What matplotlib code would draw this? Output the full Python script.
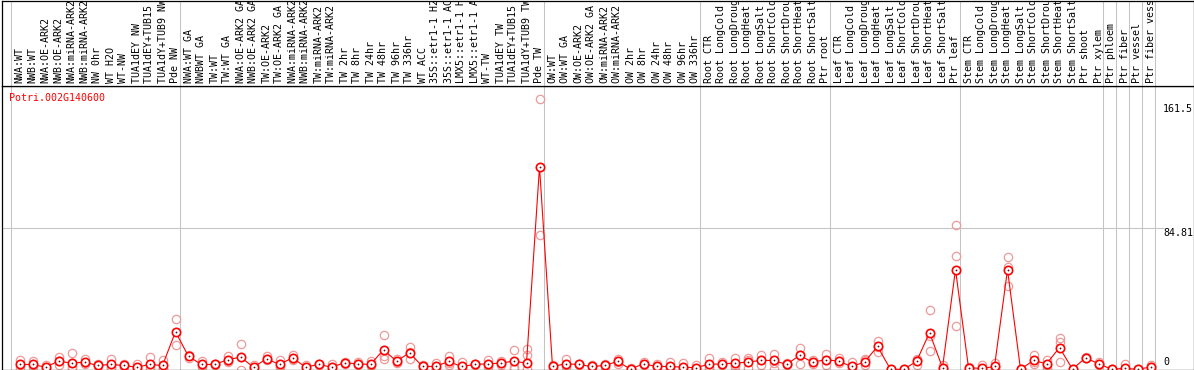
import matplotlib
matplotlib.use("Agg")
import matplotlib.pyplot as plt
from matplotlib import transforms

# ---------------- data ----------------
labels = [
    "NWA:WT", "NWB:WT", "NWA:OE-ARK2", "NWB:OE-ARK2", "NWA:miRNA-ARK2", "NWB:miRNA-ARK2",
    "NW 0hr", "WT H2O", "WT-NW", "TUA1dEY NW", "TUA1dEY+TUB15 NW", "TUA1dY+TUB9 NW", "Pde NW",
    "NWA:WT GA", "NWBWT GA", "TW:WT", "TW:WT GA", "NWA:OE-ARK2 GA", "NWB:OE-ARK2 GA",
    "TW:OE-ARK2", "TW:OE-ARK2 GA", "NWA:miRNA-ARK2 GA", "NWB:miRNA-ARK2 GA", "TW:miRNA-ARK2",
    "TW:miRNA-ARK2 GA", "TW 2hr", "TW 8hr", "TW 24hr", "TW 48hr", "TW 96hr", "TW 336hr",
    "WT ACC", "35S::etr1-1 H2O", "35S::etr1-1 ACC", "LMX5::etr1-1 H2O", "LMX5::etr1-1 ACC",
    "WT-TW", "TUA1dEY TW", "TUA1dEY+TUB15 TW", "TUA1dY+TUB9 TW", "Pde TW",
    "OW:WT", "OW:WT GA", "OW:OE-ARK2", "OW:OE-ARK2 GA", "OW:miRNA-ARK2", "OW:miRNA-ARK2 GA",
    "OW 2hr", "OW 8hr", "OW 24hr", "OW 48hr", "OW 96hr", "OW 336hr",
    "Root CTR", "Root LongCold", "Root LongDrought", "Root LongHeat", "Root LongSalt",
    "Root ShortCold", "Root ShortDrought", "Root ShortHeat", "Root ShortSalt", "Ptr root",
    "Leaf CTR", "Leaf LongCold", "Leaf LongDrought", "Leaf LongHeat", "Leaf LongSalt",
    "Leaf ShortCold", "Leaf ShortDrought", "Leaf ShortHeat", "Leaf ShortSalt", "Ptr leaf",
    "Stem CTR", "Stem LongCold", "Stem LongDrought", "Stem LongHeat", "Stem LongSalt",
    "Stem ShortCold", "Stem ShortDrought", "Stem ShortHeat", "Stem ShortSalt", "Ptr shoot",
    "Ptr xylem", "Ptr phloem", "Ptr fiber", "Ptr vessel", "Ptr fiber vessel",
]

means = [
    3.0, 3.0, 1.4, 5.0, 3.8, 4.4, 2.4, 3.0, 2.4, 1.4, 3.0, 2.4, 22.6,
    7.8, 3.0, 3.0, 5.8, 7.4, 1.4, 6.4, 3.0, 7.0, 1.4, 3.0, 1.4, 4.0, 3.4, 3.0,
    11.8, 5.0, 10.0, 1.8, 1.8, 4.8, 1.8, 3.0, 3.4, 3.8, 5.0, 3.8, 121.0,
    1.8, 3.4, 3.0, 1.8, 2.4, 4.8, 0.2, 3.4, 1.8, 1.8, 1.4, 1.1,
    3.0, 3.4, 3.8, 4.4, 5.4, 5.4, 3.0, 8.4, 4.4, 5.8,
    5.0, 1.8, 4.4, 13.8, 0.1, 0.1, 4.8, 22.0, 1.1, 59.7,
    1.1, 0.6, 1.8, 59.6, 0.2, 5.4, 3.4, 13.1, 0.2, 7.0,
    3.4, 0.2, 0.6, 0.2, 1.4,
]

replicates = [
    [5.4, 2.4, 1.1], [4.8, 2.4, 1.4], [2.4, 1.1, 0.6], [7.4, 5.2, 2.4], [9.8, 1.4, 0.3],
    [6.4, 3.6, 3.2], [3.0, 2.4, 1.8], [6.4, 1.6, 1.0], [3.4, 1.8, 1.4], [3.4, 0.6, 0.2],
    [7.4, 1.4, 0.2], [5.8, 1.1, 0.3], [30.3, 14.8],
    [8.8, 6.8], [4.8, 2.6, 1.6], [3.4, 3.2, 2.4], [8.0, 5.0, 4.4], [15.0, 0.0],
    [2.4, 1.1, 0.6], [7.8, 6.0, 5.4], [5.8, 2.0, 1.2], [8.8, 6.4, 5.4], [2.4, 1.1, 0.3],
    [3.4, 3.0, 2.4], [3.0, 0.6, 0.3], [4.4, 4.0, 3.4], [4.4, 3.4, 2.4], [4.8, 2.4, 1.8],
    [20.9, 7.9, 6.4], [6.4, 4.4, 4.0], [13.4, 10.2, 6.4], [2.4, 1.8, 1.1], [3.8, 0.6, 0.2],
    [8.0, 3.8, 2.4], [4.4, 0.6, 0.2], [3.4, 3.0, 2.4], [5.8, 2.8, 1.4], [4.8, 3.8, 2.4],
    [11.8, 1.4, 0.2], [12.2, 8.4, 0.5], [161.5, 80.5],
    [2.4, 1.1, 0.2], [6.4, 2.4, 1.4], [3.4, 3.0, 2.4], [2.4, 1.8, 1.1], [3.4, 2.4, 1.4],
    [6.4, 4.4, 3.4], [0.6, 0.2, 0.0], [4.4, 3.4, 2.4], [3.0, 1.8, 0.6], [4.4, 0.6, 0.2],
    [3.8, 0.6, 0.2], [2.4, 0.6, 0.2],
    [7.0, 1.4, 0.3], [4.4, 3.4, 2.4], [7.0, 2.4, 1.4], [7.0, 5.8, 0.6], [8.4, 5.4, 2.4],
    [9.4, 3.8, 0.2], [3.8, 3.0, 2.4], [13.0, 8.4, 3.4], [5.4, 4.4, 3.4], [9.4, 5.4, 2.4],
    [6.8, 5.0, 3.8], [4.4, 0.6, 0.2], [6.4, 5.4, 2.4], [17.1, 13.6, 10.4], [0.2, 0.0],
    [0.2, 0.0], [6.4, 5.4, 2.4], [35.8, 19.9, 10.8], [2.4, 0.6, 0.2], [86.4, 67.9, 25.7],
    [1.6, 0.2], [2.4, 0.2], [3.8, 1.0, 0.6], [67.3, 61.5, 49.6], [0.4, 0.1],
    [8.8, 4.4, 3.4], [5.8, 2.4, 1.1], [18.7, 16.7, 4.2], [0.4, 0.1], [7.4, 6.8, 6.6],
    [4.4, 3.4, 2.4], [0.4, 0.1], [3.0, 0.2], [0.4, 0.1], [2.4, 1.4, 0.6],
]

group_starts = [0, 13, 41, 53, 63, 73, 84, 85, 86, 87, 88]
gene_name = "Potri.002G140600"
y_max_label = 161.5
y_mid_label = 84.81
y_axis_top = 2 * y_mid_label

# ---------------- layout ----------------
W, H = 1194, 370
fig = plt.figure(figsize=(W / 100, H / 100), dpi=100)
fig.patch.set_facecolor("white")


def px_box(l, t, r, b):
    return [l / W, 1 - b / H, (r - l) / W, (b - t) / H]


LEFT, RIGHT = 1.5, 1193.5
X0, DX = 19.5, 13.0
ax = fig.add_axes(px_box(LEFT, 85.5, RIGHT, 369.5))
ax_top = fig.add_axes(px_box(LEFT, 0.5, RIGHT, 85.5))

xlim = ((LEFT - X0) / DX, (RIGHT - X0) / DX)
for a in (ax, ax_top):
    a.set_xlim(*xlim)
    a.set_xticks([])
    a.set_yticks([])
    for sp in a.spines.values():
        sp.set_color("black")
        sp.set_linewidth(0.9)
ax.set_ylim(0, y_axis_top)
ax_top.set_ylim(0, 1)

grid_color = "#c4c4c4"
for s in group_starts:
    ax.axvline(s - 0.65, color=grid_color, lw=0.75, zorder=1)
    ax_top.axvline(s - 0.65, color=grid_color, lw=0.75, zorder=1)
ax.hlines(y_mid_label, xlim[0], 88.0, color=grid_color, lw=0.75, zorder=1)

mono = "DejaVu Sans Mono"
fs = 7.2

# category labels (rotated)
btrans = transforms.blended_transform_factory(ax_top.transData, ax_top.transAxes)
for i, lab in enumerate(labels):
    ax_top.text(i, 2.5 / 85, lab, rotation=90, ha="center", va="bottom",
                fontsize=fs, family=mono, color="black", transform=btrans, clip_on=True)

xs = list(range(len(means)))
rx, ry = [], []
for i, reps in enumerate(replicates):
    for v in reps:
        rx.append(i)
        ry.append(v)
ax.plot(rx, ry, linestyle="none", marker="o", ms=6.0, mfc="none",
        mec="#ee9a9a", mew=0.9, zorder=2)
ax.plot(xs, means, color="#ff0000", lw=0.8, zorder=3)
ax.plot(xs, means, linestyle="none", marker="o", ms=6.0, mfc="white",
        mec="#ff0000", mew=1.2, zorder=4)
ax.plot(xs, means, linestyle="none", marker="o", ms=1.3, mfc="#700000",
        mec="none", zorder=5)

# gene name
ax.text(0, 1, gene_name, color="#ff0000", fontsize=fs, family=mono, va="baseline", ha="left",
        transform=transforms.offset_copy(ax.transAxes, fig, x=8, y=-15.5, units="dots"))

# value labels on right
ylab_trans = transforms.blended_transform_factory(ax.transAxes, ax.transData)
for val, txt, dy in [(y_max_label, "161.5", -12.6), (y_mid_label, "84.81", -8.2), (0, "0", 4.5)]:
    ax.text(1, val, txt, fontsize=fs, family=mono, color="black", ha="left", va="baseline",
            transform=transforms.offset_copy(ylab_trans, fig, x=-30.5, y=dy, units="dots"))

fig.savefig("out.png", dpi=100, facecolor="white")
